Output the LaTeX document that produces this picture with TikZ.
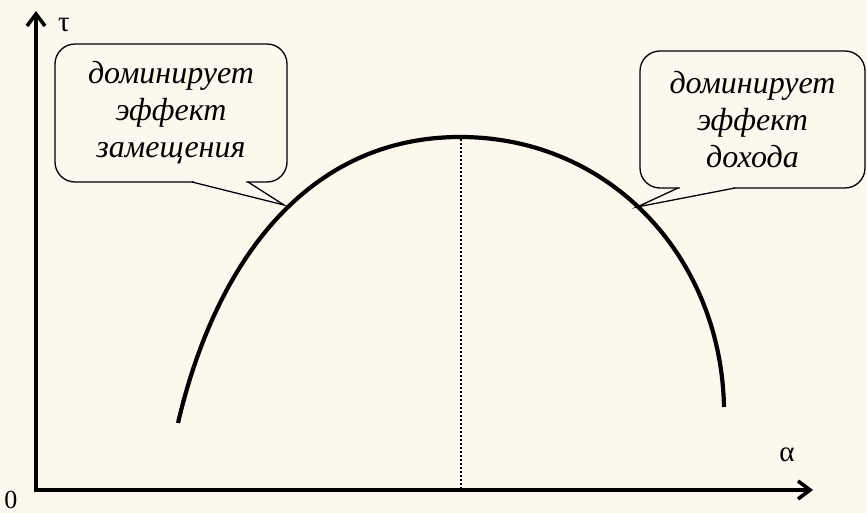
\documentclass[tikz,border=0pt]{standalone}
\usepackage{fontspec}
\setmainfont{Liberation Serif}
\usetikzlibrary{arrows.meta}
\definecolor{bg}{RGB}{252,248,237}
\tikzset{
  axis/.style={line width=4.2pt,-{Straight Barb[length=12pt,width=18pt,line width=3.6pt]}},
  curve/.style={line width=4.2pt},
  callout/.style={draw,line width=1.3pt,rounded corners=20pt,fill=bg,align=center,
    font=\fontsize{32}{37}\selectfont\itshape,inner sep=0pt},
  tailline/.style={line width=1.3pt},
  lbl/.style={font=\fontsize{29}{32}\selectfont,inner sep=0pt}
}
\begin{document}
\begin{tikzpicture}[x=1pt,y=-1pt]
\fill[bg] (0,0) rectangle (867,513);
\useasboundingbox (0,0) rectangle (867,513);
% axes
\coordinate (O) at (36,490);
\coordinate (ytop) at (36,11);
\coordinate (xend) at (813,490);
\draw[axis] ([yshift=-2pt]O) -- (ytop);
\draw[axis] ([xshift=-2pt]O) -- (xend);
\node[lbl,font=\fontsize{26}{30}\selectfont] (zero) at (11,500) {0};
\node[lbl] (tau) at (64,25) {τ};
\node[lbl] (alpha) at (787,455) {α};
% curve
\coordinate (cstart) at (178,423);
\coordinate (peak) at (460,137);
\coordinate (cend) at (724,407);
\draw[curve] (cstart) .. controls (216.5,258) and (310,137) .. (peak)
  .. controls (610,137) and (721,257) .. (cend);
\coordinate (top) at (461,139);
\coordinate (base) at (461,490);
\draw[line width=2pt,dotted] (top) -- (base);
% left callout
\node[callout,minimum width=232pt,minimum height=138pt] (cl) at (171,113)
 {доминирует\\эффект\\замещения};
\coordinate (tipl) at (284,205);
\fill[bg] (194,183) -- (tipl) -- (246,183) -- (246,179) -- (194,179) -- cycle;
\draw[tailline,line join=miter] (192,182) -- (tipl) -- (248,182);
% right callout
\node[callout,minimum width=225pt,minimum height=137pt] (cr) at (752.5,119.5)
 {доминирует\\эффект\\дохода};
\coordinate (tipr) at (637,207);
\fill[bg] (680,190) -- (tipr) -- (733,190) -- (733,186) -- (680,186) -- cycle;
\draw[tailline,line join=miter] (678,188) -- (tipr) -- (735,188);
\end{tikzpicture}
\end{document}
